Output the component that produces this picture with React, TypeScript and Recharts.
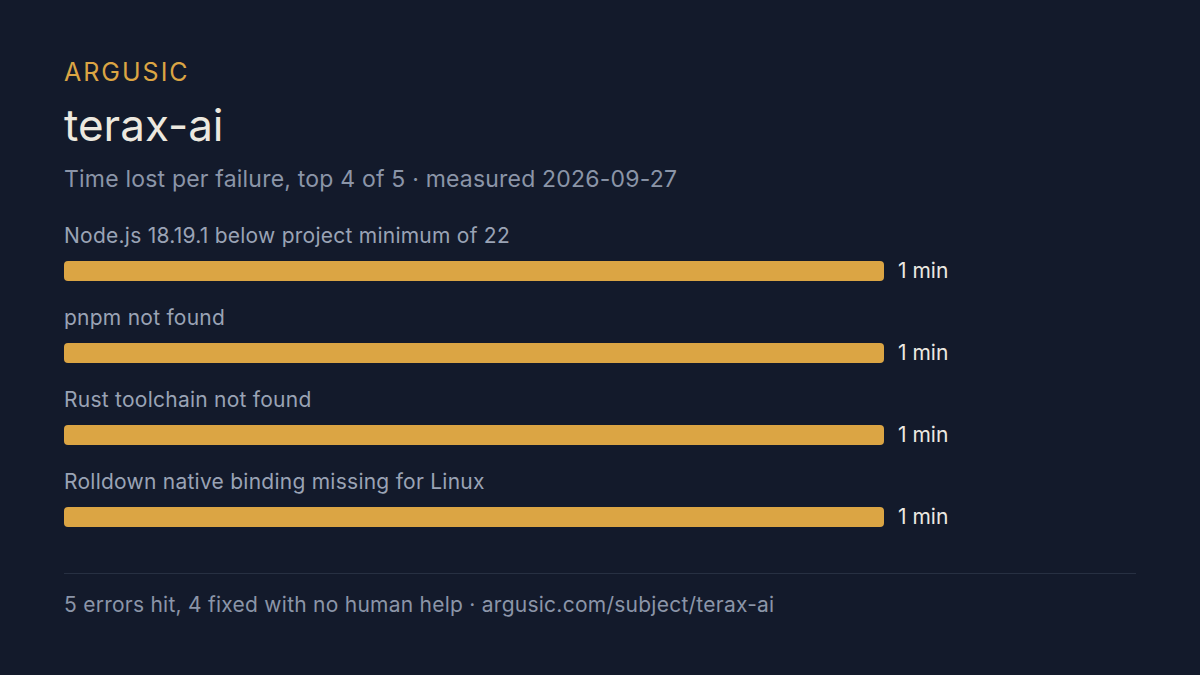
import React from 'react';
import { BarChart, Bar, XAxis, YAxis, LabelList } from 'recharts';

const categories = [
  'Node.js 18.19.1 below project minimum of 22',
  'pnpm not found',
  'Rust toolchain not found',
  'Rolldown native binding missing for Linux',
];
const minutesLost = [1, 1, 1, 1];
const valueLabels = ['1 min', '1 min', '1 min', '1 min'];

const BG = '#131a2b';
const GOLD = '#dba544';
const FONT = 'Inter, "Noto Sans", sans-serif';

const data = categories.map((name, i) => ({ name, minutes: minutesLost[i], label: valueLabels[i] }));

const CategoryLabel = (props: any) => {
  const { x, y, value } = props;
  return (
    <text x={x} y={y - 18} fill="#9aa3b5" fontSize={21} letterSpacing={0.25} fontFamily={FONT}>
      {value}
    </text>
  );
};

const ValueLabel = (props: any) => {
  const { x, y, width, height, value } = props;
  return (
    <text x={x + width + 14} y={y + height / 2 + 7} fill="#ece9e2" fontSize={21} fontFamily={FONT}>
      {value}
    </text>
  );
};

const App: React.FC = () => {
  return (
    <div style={{ position: 'absolute', left: 0, top: 0, width: 1200, height: 675, background: BG, fontFamily: FONT, overflow: 'hidden' }}>
      <div style={{ position: 'absolute', left: 64, top: 57, fontSize: 25, letterSpacing: 2, color: GOLD }}>ARGUSIC</div>
      <div style={{ position: 'absolute', left: 64, top: 98, fontSize: 44, color: '#ece8df' }}>terax-ai</div>
      <div style={{ position: 'absolute', left: 64, top: 165, fontSize: 23, letterSpacing: 0.2, color: '#8b95a8' }}>
        Time lost per failure, top 4 of 5 · measured 2026-09-27
      </div>

      <div style={{ position: 'absolute', left: 0, top: 200 }}>
        <BarChart width={1200} height={358} data={data} layout="vertical" margin={{ top: 30, right: 316, bottom: 0, left: 64 }}>
          <XAxis type="number" hide domain={[0, 1]} />
          <YAxis type="category" dataKey="name" hide />
          <Bar dataKey="minutes" fill={GOLD} barSize={20} radius={4} isAnimationActive={false}>
            <LabelList dataKey="name" content={CategoryLabel} />
            <LabelList dataKey="label" content={ValueLabel} />
          </Bar>
        </BarChart>
      </div>

      <div style={{ position: 'absolute', left: 64, top: 573, width: 1072, height: 1, background: '#273042' }} />
      <div style={{ position: 'absolute', left: 64, top: 592, fontSize: 21, letterSpacing: 0.25, color: '#8b95a8' }}>
        5 errors hit, 4 fixed with no human help · argusic.com/subject/terax-ai
      </div>
    </div>
  );
};

export default App;
